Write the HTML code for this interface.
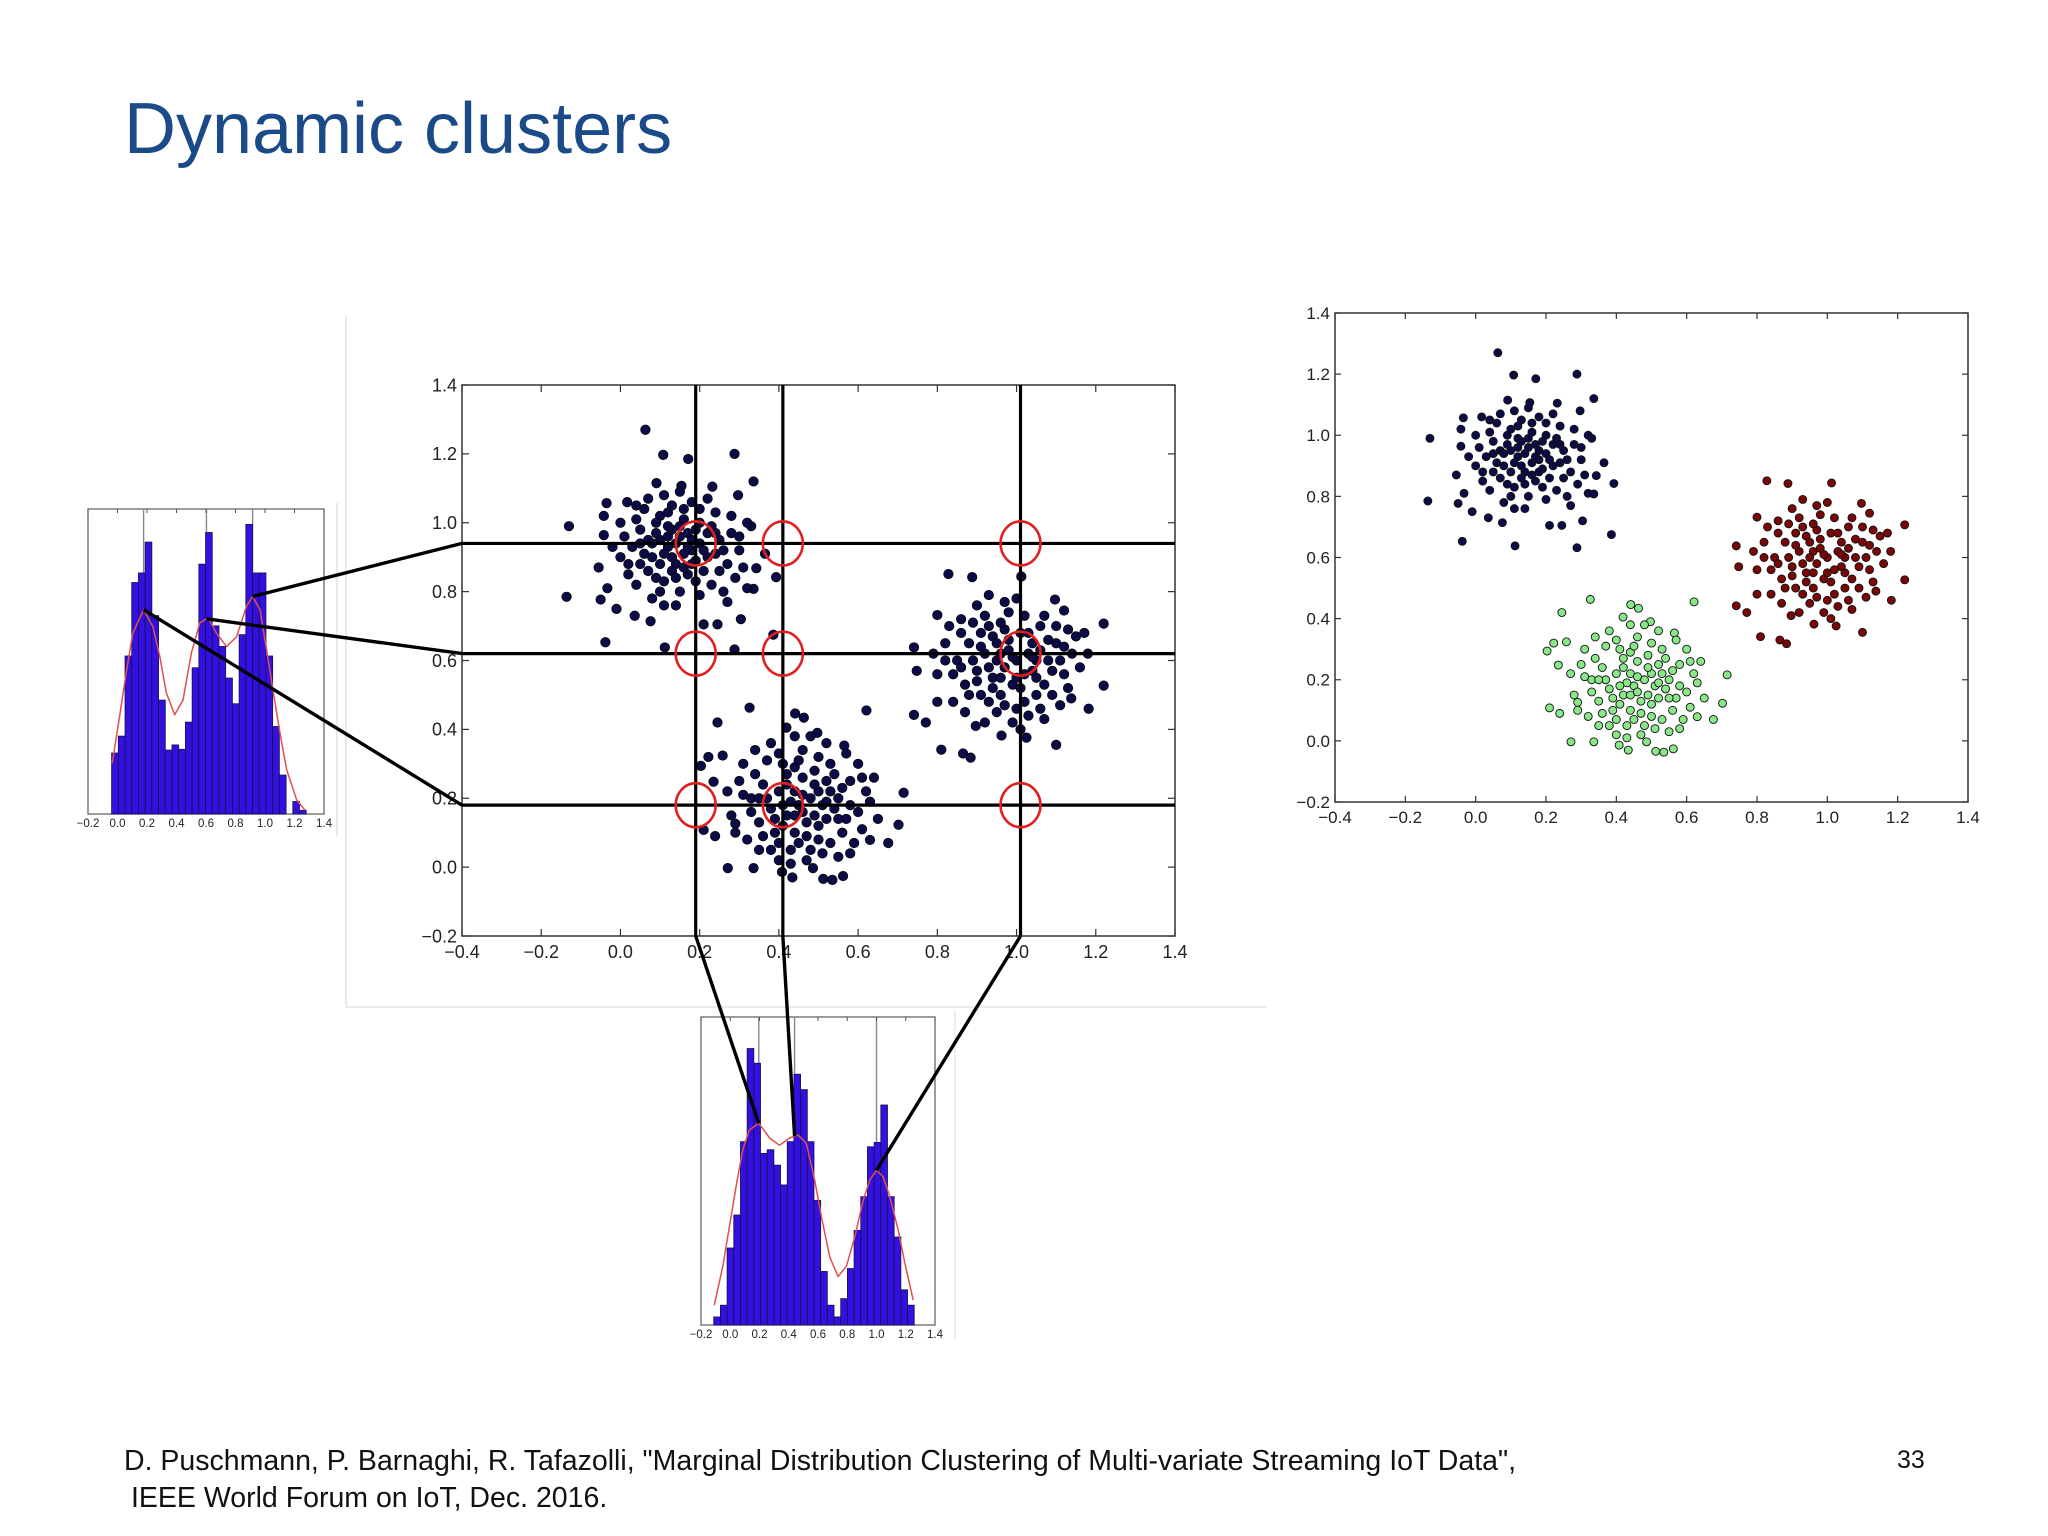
<!DOCTYPE html>
<html><head><meta charset="utf-8">
<style>
html,body{margin:0;padding:0;background:#fff;}
svg{display:block;font-family:"Liberation Sans",sans-serif;}
</style></head>
<body>
<svg id="s" width="2048" height="1536" viewBox="0 0 2048 1536" xmlns="http://www.w3.org/2000/svg">
<rect width="2048" height="1536" fill="#fff"/>
<text x="124" y="153" font-size="72" fill="#1b4a88">Dynamic clusters</text>
<text x="124" y="1470" font-size="28.5" fill="#111">D. Puschmann, P. Barnaghi, R. Tafazolli, "Marginal Distribution Clustering of Multi-variate Streaming IoT Data",</text>
<text x="131" y="1507" font-size="28.5" fill="#111">IEEE World Forum on IoT, Dec. 2016.</text>
<text x="1897" y="1468" font-size="25" fill="#111">33</text>
<g id="frames">
<path d="M346 316 V1007 H1267" fill="none" stroke="#e4e4e4" stroke-width="1.5"/>
<path d="M337 503 V836" fill="none" stroke="#e4e4e4" stroke-width="1.5"/>
<path d="M955 1010 V1340" fill="none" stroke="#e8e8e8" stroke-width="1.5"/>
</g>
<g id="main"></g>
<g id="right"></g>
<g id="histL"></g>
<g id="histB"></g>
<g id="conn"></g>
</svg>
<script>
// ---- data ----
const clusterA = [[0.063,1.27],[0.108,1.197],[0.171,1.185],[0.288,1.2],[0.336,1.12],[-0.13,0.99],[-0.136,0.785],[-0.038,0.653],[0.112,0.638],[0.288,0.632],[0.386,0.675],[0.393,0.842],[0.365,0.91],[-0.05,0.777],[-0.01,0.75],[0.036,0.73],[0.076,0.714],[0.21,0.705],[0.245,0.705],[0.304,0.72],[0.336,0.808],[0.343,0.868],[0.33,0.99],[0.297,1.08],[0.232,1.105],[0.154,1.107],[0.091,1.115],[0.017,1.06],[-0.035,1.057],[-0.042,1.02],[-0.042,0.964],[-0.055,0.87],[-0.033,0.81],
[0.1,0.95],[0.12,0.93],[0.15,0.96],[0.08,0.9],[0.18,0.92],[0.05,0.98],[0.2,1.0],[0.14,0.88],[0.1,1.02],[0.22,0.9],[0.03,0.93],[0.17,0.85],[0.25,0.95],[0.07,0.86],[0.13,1.05],[0.27,0.88],[0.0,1.0],[0.19,0.98],[0.11,0.83],[0.24,1.03],[0.06,1.04],[0.16,0.91],[0.09,0.97],[0.21,0.86],[0.28,0.97],[0.02,0.88],[0.12,0.99],[0.23,0.82],[0.04,0.82],[0.15,0.8],[0.3,0.92],[0.18,1.06],[0.08,0.78],[0.26,0.8],[0.13,0.9],[0.2,0.94],[0.1,0.88],[0.32,1.0],[0.0,0.9],[0.16,1.01],[0.05,0.94],[0.22,0.97],[0.14,0.76],[0.29,0.84],[0.11,1.08],
[0.14,0.94],[0.17,0.97],[0.11,0.91],[0.19,0.89],[0.07,0.95],[0.13,0.86],[0.24,0.91],[0.16,0.87],[0.09,1.0],[0.2,1.04],
[0.01,0.96],[0.04,1.01],[0.06,0.91],[0.09,0.84],[0.12,0.96],[0.15,0.99],[0.18,0.95],[0.21,0.92],[0.23,0.99],[0.26,0.92],[0.28,1.02],[0.31,0.87],[0.02,0.85],[0.07,1.07],[0.12,1.03],[0.16,1.04],[0.19,0.83],[0.25,0.86],[0.27,0.77],[0.1,0.8],[0.05,0.88],[0.14,0.84],[0.17,0.93],[0.22,1.07],[0.3,0.96],[-0.02,0.93],[0.08,0.94],[0.13,0.98],[0.18,0.88],[0.24,0.97],[0.04,1.05],[0.32,0.81],[0.2,0.79],[0.11,0.76],[0.15,1.09]];
const clusterB = [[0.326,0.463],[0.245,0.42],[0.441,0.446],[0.463,0.434],[0.621,0.455],[0.419,0.405],[0.497,0.39],[0.203,0.294],[0.222,0.32],[0.258,0.324],[0.21,0.108],[0.239,0.09],[0.271,-0.003],[0.336,-0.003],[0.434,-0.03],[0.486,-0.003],[0.512,-0.034],[0.535,-0.037],[0.562,-0.026],[0.715,0.216],[0.702,0.123],[0.676,0.07],[0.63,0.079],[0.61,0.26],[0.565,0.353],[0.235,0.248],[0.29,0.126],[0.408,-0.014],
[0.45,0.18],[0.48,0.2],[0.42,0.15],[0.5,0.22],[0.4,0.22],[0.52,0.14],[0.46,0.26],[0.38,0.17],[0.55,0.2],[0.44,0.1],[0.36,0.24],[0.5,0.08],[0.58,0.25],[0.41,0.3],[0.47,0.13],[0.33,0.2],[0.53,0.3],[0.6,0.16],[0.39,0.1],[0.49,0.28],[0.35,0.13],[0.56,0.1],[0.43,0.05],[0.3,0.25],[0.62,0.22],[0.46,0.34],[0.51,0.04],[0.37,0.31],[0.57,0.33],[0.32,0.08],[0.44,0.22],[0.54,0.17],[0.4,0.02],[0.48,0.38],[0.28,0.15],[0.59,0.07],[0.42,0.27],[0.52,0.25],[0.35,0.05],[0.47,0.02],[0.65,0.14],[0.38,0.36],[0.55,0.03],[0.31,0.3],[0.44,0.15],
[0.46,0.21],[0.43,0.19],[0.51,0.18],[0.41,0.12],[0.49,0.15],[0.37,0.2],[0.53,0.22],[0.45,0.07],[0.57,0.14],[0.34,0.27],
[0.39,0.14],[0.42,0.24],[0.44,0.29],[0.47,0.09],[0.5,0.12],[0.52,0.19],[0.54,0.27],[0.56,0.23],[0.58,0.18],[0.61,0.11],[0.36,0.09],[0.33,0.16],[0.31,0.21],[0.4,0.33],[0.45,0.31],[0.5,0.32],[0.48,0.05],[0.43,0.01],[0.38,0.05],[0.53,0.07],[0.6,0.3],[0.63,0.19],[0.27,0.22],[0.34,0.34],[0.41,0.18],[0.46,0.16],[0.49,0.24],[0.55,0.14],[0.58,0.04],[0.35,0.2],[0.29,0.1],[0.64,0.26],[0.52,0.36],[0.44,0.38],[0.4,0.07]];
const clusterC = [[0.828,0.851],[0.888,0.842],[1.012,0.844],[1.097,0.777],[1.12,0.745],[1.22,0.707],[1.22,0.527],[1.182,0.46],[1.1,0.355],[1.025,0.376],[0.962,0.382],[0.884,0.318],[0.865,0.33],[0.81,0.341],[0.771,0.42],[0.741,0.442],[0.741,0.638],[0.748,0.57],[0.8,0.732],[0.897,0.41],[1.171,0.68],[1.138,0.49],[0.8,0.48],[0.93,0.79],
[0.97,0.58],[1.0,0.6],[0.94,0.55],[1.03,0.62],[0.92,0.62],[1.05,0.55],[0.98,0.66],[0.9,0.57],[1.08,0.6],[0.96,0.5],[0.88,0.65],[1.02,0.48],[1.1,0.65],[0.93,0.7],[0.99,0.53],[0.85,0.6],[1.06,0.7],[1.12,0.56],[0.91,0.5],[1.01,0.68],[0.87,0.53],[1.09,0.5],[0.95,0.45],[0.82,0.65],[1.14,0.62],[0.98,0.74],[1.03,0.44],[0.89,0.71],[1.07,0.73],[0.84,0.48],[0.96,0.62],[1.04,0.57],[0.92,0.42],[1.0,0.78],[0.8,0.56],[1.11,0.47],[0.94,0.67],[1.04,0.65],[0.87,0.45],[0.99,0.42],[1.16,0.58],[0.9,0.76],[1.07,0.43],[0.83,0.7],[0.96,0.55],
[0.99,0.61],[1.02,0.56],[0.95,0.6],[1.06,0.63],[0.93,0.58],[1.01,0.52],[0.97,0.69],[1.09,0.57],[0.86,0.58],[1.13,0.69],
[0.91,0.64],[0.94,0.52],[0.97,0.47],[1.0,0.55],[1.03,0.68],[1.05,0.6],[1.08,0.66],[1.11,0.6],[1.13,0.52],[1.15,0.67],[0.89,0.6],[0.86,0.68],[0.84,0.56],[0.82,0.6],[0.92,0.73],[0.96,0.71],[1.02,0.73],[1.05,0.5],[1.0,0.46],[0.93,0.48],[0.88,0.5],[1.07,0.53],[1.1,0.7],[0.98,0.63],[1.04,0.61],[0.9,0.54],[0.95,0.65],[1.12,0.64],[1.18,0.62],[0.79,0.62],[0.86,0.72],[1.01,0.4],[0.97,0.77],[1.06,0.46],[0.91,0.68]];
const xTicks = [-0.4,-0.2,0.0,0.2,0.4,0.6,0.8,1.0,1.2,1.4];
const yTicks = [-0.2,0.0,0.2,0.4,0.6,0.8,1.0,1.2,1.4];
const histTicks = [-0.2,0.0,0.2,0.4,0.6,0.8,1.0,1.2,1.4];
const gridY = [0.18,0.62,0.94];
const gridX = [0.19,0.41,1.01];
// y-marginal histogram (left)
const histLStart = -0.04, histLWidth = 0.0455;
const histLCounts = [8.3,10.6,21.5,31.5,32.8,37,27,15.5,8.7,9.4,8.8,12.5,19.9,34,38.3,25.6,22.8,18.5,15,24.4,39.4,32.8,32.8,21.5,11.9,5.3,0,1.7,0.5];
const kdeLx = [-0.036,0.014,0.059,0.104,0.177,0.240,0.286,0.331,0.388,0.444,0.501,0.558,0.615,0.671,0.739,0.807,0.875,0.916,0.966,1.011,1.057,1.102,1.147,1.215,1.272];
const kdeLv = [6.9,13.3,19.2,24.6,27.8,25.5,21.5,16.5,13.5,15.5,21.9,26,26.7,24.6,22.8,24.1,28.3,29.6,27.8,22.4,16.5,11,6,1.9,0.5];
const histLMarks = [0.177,0.603,0.916];
// x-marginal histogram (bottom)
const histBStart = -0.113, histBWidth = 0.0457;
const histBCounts = [1.1,2.7,10.5,15,25,37.7,35.7,23.4,23.9,21.8,19.1,25,34.2,32.1,25,17,7.3,2.7,1.1,3.6,7.7,12.9,17.5,24.3,24.9,30,17.5,12.0,4.8,2.7];
const kdeBx = [-0.109,-0.051,-0.006,0.040,0.086,0.131,0.195,0.269,0.337,0.406,0.463,0.520,0.577,0.623,0.680,0.737,0.794,0.851,0.909,0.954,1.0,1.046,1.091,1.149,1.194,1.251];
const kdeBv = [2.7,8,13.4,18.9,23.9,26.6,27.5,25.5,24.5,25.5,25.9,24.8,19.8,14.8,9.3,6.6,8,12,17,19.8,21.1,20.2,17.5,12.9,8.4,3.4];
const histBMarks = [0.195,0.44,1.0];

const NS = "http://www.w3.org/2000/svg";
function mk(tag, attrs, parent){const e=document.createElementNS(NS,tag);for(const k in attrs)e.setAttribute(k,attrs[k]);parent.appendChild(e);return e;}
function fmt(v){const s=Math.abs(v).toFixed(1);return (v< -1e-9?"\u2212":"")+s;}
function scale(d0,d1,r0,r1){return v=>r0+(v-d0)/(d1-d0)*(r1-r0);}

function axesFrame(g, L,T,R,B, sx, sy, fs, xt, yt, tl){
  xt.forEach(v=>{const x=sx(v);
    mk('line',{x1:x,y1:B,x2:x,y2:B-tl,stroke:'#333','stroke-width':1.2},g);
    mk('line',{x1:x,y1:T,x2:x,y2:T+tl,stroke:'#333','stroke-width':1.2},g);
    const t=mk('text',{x:x,y:B+fs+4,'font-size':fs,'text-anchor':'middle',fill:'#222'},g);t.textContent=fmt(v);
    
    
  });
  yt.forEach(v=>{const y=sy(v);
    mk('line',{x1:L,y1:y,x2:L+tl,y2:y,stroke:'#333','stroke-width':1.2},g);
    mk('line',{x1:R,y1:y,x2:R-tl,y2:y,stroke:'#333','stroke-width':1.2},g);
    const t=mk('text',{x:L-5,y:y+fs*0.35,'font-size':fs,'text-anchor':'end',fill:'#222'},g);t.textContent=fmt(v);
    
    
  });
}

// ---- main scatter ----
(function(){
  const g=document.getElementById('main');
  const L=462,R=1175,T=385,B=936;
  const sx=scale(-0.4,1.4,L,R), sy=scale(-0.2,1.4,B,T);
  const fr=mk('rect',{x:L,y:T,width:R-L,height:B-T,fill:'#fff',stroke:'#333','stroke-width':1.5},g);
  
  
  [clusterA,clusterB,clusterC].forEach(cl=>cl.forEach(p=>{
    const c=mk('circle',{cx:sx(p[0]),cy:sy(p[1]),r:4.8,fill:'#0b0c45',stroke:'#000','stroke-width':0.6},g);
    
    
  }));
  gridY.forEach(v=>{const l=mk('line',{x1:L,y1:sy(v),x2:R,y2:sy(v),stroke:'#000','stroke-width':3.2},g);
    
    });
  gridX.forEach(v=>{const l=mk('line',{x1:sx(v),y1:T,x2:sx(v),y2:B,stroke:'#000','stroke-width':3.2},g);
    
    });
  gridX.forEach(xv=>gridY.forEach(yv=>{
    const e=mk('ellipse',{cx:sx(xv),cy:sy(yv),rx:20,ry:22,fill:'none',stroke:'#e02020','stroke-width':2.6},g);
    
    
  }));
  axesFrame(g,L,T,R,B,sx,sy,18,xTicks,yTicks,7);
})();

// ---- right clustered scatter ----
(function(){
  const g=document.getElementById('right');
  const L=1335,R=1968,T=313,B=802;
  const sx=scale(-0.4,1.4,L,R), sy=scale(-0.2,1.4,B,T);
  const fr=mk('rect',{x:L,y:T,width:R-L,height:B-T,fill:'#fff',stroke:'#333','stroke-width':1.5},g);
  
  
  const cols=[['#0b0c45','cluster-1-point'],['#88e888','cluster-2-point'],['#7a0606','cluster-3-point']];
  [clusterA,clusterB,clusterC].forEach((cl,i)=>cl.forEach(p=>{
    const c=mk('circle',{cx:sx(p[0]),cy:sy(p[1]),r:4.0,fill:cols[i][0],stroke:'#111','stroke-width':0.9},g);
    
    
  }));
  axesFrame(g,L,T,R,B,sx,sy,17,xTicks,yTicks,6);
})();

// ---- histograms ----
function hist(id,L,R,T,B,start,w,counts,ymax,kx,kv,marks){
  const g=document.getElementById(id);
  const sx=scale(-0.2,1.4,L,R), sy=scale(0,ymax,B,T);
  const fr=mk('rect',{x:L,y:T,width:R-L,height:B-T,fill:'#fff',stroke:'#666','stroke-width':1.3},g);
  
  
  marks.forEach(v=>{const l=mk('line',{x1:sx(v),y1:T,x2:sx(v),y2:B,stroke:'#888','stroke-width':1.4},g);
    
    });
  counts.forEach((c,i)=>{
    const x0=sx(start+i*w), x1=sx(start+(i+1)*w);
    const r=mk('rect',{x:x0,y:sy(c),width:x1-x0,height:B-sy(c),fill:'#3410e0',stroke:'#15104a','stroke-width':0.8},g);
    
    
  });
  const pts=kx.map((x,i)=>sx(x).toFixed(1)+','+sy(kv[i]).toFixed(1)).join(' ');
  const pl=mk('polyline',{points:pts,fill:'none',stroke:'#e05050','stroke-width':1.5,'stroke-linejoin':'round'},g);
  
  
  histTicks.forEach(v=>{const x=sx(v);
    mk('line',{x1:x,y1:T,x2:x,y2:T+4,stroke:'#555','stroke-width':1},g);
    const t=mk('text',{x:x,y:B+13,'font-size':11.5,'text-anchor':'middle',fill:'#222'},g);t.textContent=fmt(v);
    
    
  });
  return {sx,sy};
}
const hl=hist('histL',88,324,509,814,histLStart,histLWidth,histLCounts,41.5,kdeLx,kdeLv,histLMarks);
const hb=hist('histB',701,935,1017,1325,histBStart,histBWidth,histBCounts,42,kdeBx,kdeBv,histBMarks);

// ---- connectors ----
(function(){
  const g=document.getElementById('conn');
  const sx=scale(-0.4,1.4,462,1175), sy=scale(-0.2,1.4,936,385);
  function kdeAt(xs,vs,x){for(let i=0;i<xs.length-1;i++){if(x>=xs[i]&&x<=xs[i+1]){const t=(x-xs[i])/(xs[i+1]-xs[i]);return vs[i]+t*(vs[i+1]-vs[i]);}}return 0;}
  histLMarks.forEach((m,i)=>{
    const x1=hl.sx(m), y1=hl.sy(kdeAt(kdeLx,kdeLv,m));
    const l=mk('line',{x1:x1,y1:y1,x2:462,y2:sy(gridY[i]),stroke:'#000','stroke-width':3.4},g);
    
    
  });
  histBMarks.forEach((m,i)=>{
    const x1=hb.sx(m), y1=hb.sy(kdeAt(kdeBx,kdeBv,m));
    const l=mk('line',{x1:x1,y1:y1,x2:sx(gridX[i]),y2:936,stroke:'#000','stroke-width':3.4},g);
    
    
  });
})();
</script>
</body></html>
